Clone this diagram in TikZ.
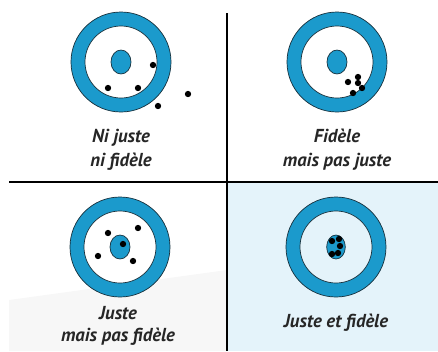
\documentclass[tikz,border=0pt]{standalone}
\usepackage{fontspec}
\setmainfont{PT Sans}
\usetikzlibrary{positioning}
\definecolor{ringblue}{RGB}{27,154,204}
\definecolor{ringline}{RGB}{22,48,60}
\definecolor{panelblue}{RGB}{228,243,250}
\definecolor{fadegray}{RGB}{247,247,247}

\begin{document}
\begin{tikzpicture}[
    x=0.03cm, y=-0.03cm,
    ring/.style={circle, draw=ringline, line width=0.6pt, fill=ringblue, minimum size=3cm, inner sep=0pt},
    hole/.style={circle, draw=ringline, line width=0.6pt, fill=white, minimum size=2.16cm, inner sep=0pt},
    bull/.style={draw=ringline, line width=0.6pt, fill=ringblue},
    hit/.style={fill=black},
    caption/.style={align=center, font=\itshape\bfseries\fontsize{16}{20.5}\selectfont, text=black!85},
    sep/.style={draw, line width=1.6pt}
]
\useasboundingbox (0,0) rectangle (438,351);

% Backgrounds
\fill[fadegray] (9,300) -- (227,270) -- (227,351) -- (9,351) -- cycle;
\fill[panelblue] (227,182) rectangle (438,351);

% Targets
\node[ring] (ringA) at (121,62) {};
\node[hole] (holeA) at (ringA) {};
\node[ring] (ringB) at (337,62) {};
\node[hole] (holeB) at (ringB) {};
\node[ring] (ringC) at (120,247) {};
\node[hole] (holeC) at (ringC) {};
\node[ring] (ringD) at (336,247) {};
\node[hole, fill=panelblue] (holeD) at (ringD) {};

\foreach \t in {A,B,C}
    \draw[bull] (ring\t) ellipse [x radius=0.3cm, y radius=0.36cm];
\draw[bull] (ringD) ellipse [x radius=0.28cm, y radius=0.36cm];

% Hits
\foreach \p in {(153,65),(108,88),(138,88),(158,106),(188,94)}
    \fill[hit] \p circle [radius=0.095cm];
\foreach \p in {(348,82),(358,77),(358,83),(362,88),(353,93)}
    \fill[hit] \p circle [radius=0.095cm];
\foreach \p in {(108,233),(138,228),(98,256),(133,261),(123,244)}
    \fill[hit] \p circle [radius=0.095cm];
\foreach \p in {(332,241),(339,239),(340,246),(338,253),(332,254)}
    \fill[hit] \p circle [radius=0.095cm];

% Labels
\node[caption] (capA) at (121,150) {Ni juste\\ni fidèle};
\node[caption] (capB) at (337,150) {Fidèle\\mais pas juste};
\node[caption, font=\itshape\bfseries\fontsize{16}{19}\selectfont] (capC) at (118,326) {Juste\\mais pas fidèle};
\node[caption] (capD) at (336,323) {Juste et fidèle};

% Separators
\coordinate (vtop) at (227,13);
\coordinate (vbot) at (227,351);
\coordinate (hleft) at (9,182);
\coordinate (hright) at (438,182);
\path[sep] (vtop) -- (vbot);
\path[sep] (hleft) -- (hright);

\end{tikzpicture}
\end{document}
